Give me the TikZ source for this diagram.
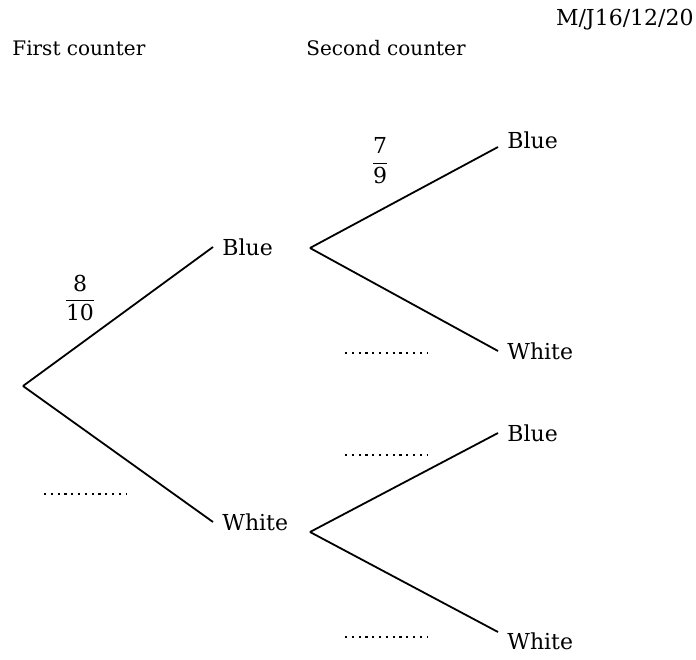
\documentclass[tikz,border=0pt]{standalone}
\usepackage{fontspec}
\setmainfont{DejaVu Serif}
\usepackage{amsmath}

\tikzset{
	branch/.style={line width=0.9pt},
	outcome/.style={anchor=west,inner sep=4.5pt},
	heading/.style={anchor=west,inner sep=0pt,font=\fontsize{10}{12}\selectfont},
	blank/.style={line width=0.6pt,dash pattern=on 1.1pt off 2.3pt},
}
% fraction set with the text digits
\newcommand{\prob}[2]{$\dfrac{\text{#1}}{\text{#2}}$}

\begin{document}
\begin{tikzpicture}[x=0.5pt,y=-0.5pt,font=\fontsize{11}{13}\selectfont]
			\useasboundingbox (0,0) rectangle (696,659);
			\draw (694,20) node [anchor=east,inner sep=0pt] (code) {M/J16/12/20};
			\draw (12,48) node [heading] (first) {First counter};
			\draw (306,48) node [heading] (second) {Second counter};
			\coordinate (root) at (23,386);
			\draw (213,247) node [outcome] (b) {Blue};
			\draw (213,522) node [outcome] (w) {White};
			\coordinate (bj) at (310,248);
			\coordinate (wj) at (310,532);
			\draw (498,140) node [outcome] (bb) {Blue};
			\draw (498,351) node [outcome] (bw) {White};
			\draw (498,433) node [outcome] (wb) {Blue};
			\draw (498,641) node [outcome] (ww) {White};
			\draw (80,298) node (p1) {\prob{8}{10}};
			\draw (380,161) node (p2) {\prob{7}{9}};
			\path[branch]
				(root) edge (b.west)
					edge (w.west)
				(bj) edge (bb.west |- 0,147)
					edge (bw.west)
				(wj) edge (wb.west)
					edge (ww.west |- 0,632);
			% answer spaces
			\draw[blank] (44,494) -- (126,494);
			\draw[blank] (345,353) -- (427,353);
			\draw[blank] (345,455) -- (427,455);
			\draw[blank] (345,637) -- (427,637);
		\end{tikzpicture}
\end{document}
